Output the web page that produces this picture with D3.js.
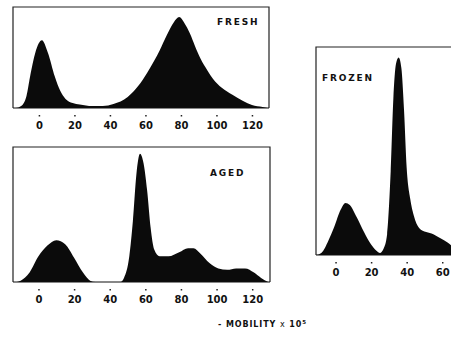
<!DOCTYPE html>
<html>
<head>
<meta charset="utf-8">
<script src="https://cdn.jsdelivr.net/npm/d3@7"></script>
<style>
  body { margin: 0; background: #fff; }
  svg { display: block; }
  text { font-family: "DejaVu Sans", sans-serif; font-weight: bold; fill: #111; }
</style>
</head>
<body>
<svg id="chart"></svg>
<script>
var width = 451;
var height = 340;

// mobility positions and relative peak heights
let freshX = [-13, -10, -7, -5, -2, 1.7, 5, 9, 12, 15, 19, 23, 30, 36, 42, 50, 56, 61, 65, 68, 72, 76, 79, 82, 85, 88, 91, 95, 98, 103, 109, 115, 120, 126, 129];
let freshY = [0, 0.02, 0.12, 0.31, 0.55, 0.67, 0.55, 0.31, 0.17, 0.09, 0.05, 0.035, 0.02, 0.02, 0.04, 0.11, 0.22, 0.35, 0.47, 0.57, 0.72, 0.85, 0.9, 0.84, 0.74, 0.61, 0.49, 0.37, 0.29, 0.2, 0.13, 0.07, 0.03, 0.01, 0];

let agedX = [-13, -10, -5, 0, 5, 10, 15, 20, 25, 29, 32, 46, 48, 51, 53, 55, 57, 59, 61, 63, 65, 68, 73, 79, 84, 87, 91, 96, 101, 106, 111, 116, 121, 125, 129];
let agedY = [0, 0.01, 0.07, 0.19, 0.27, 0.31, 0.28, 0.18, 0.07, 0.01, 0, 0, 0.03, 0.19, 0.45, 0.8, 0.95, 0.88, 0.68, 0.4, 0.24, 0.19, 0.19, 0.22, 0.25, 0.25, 0.21, 0.14, 0.1, 0.09, 0.1, 0.1, 0.07, 0.03, 0];

let frozenX = [-11, -8, -4, -1, 3, 5.6, 8, 12, 16, 20, 23, 25, 27, 29, 31, 32.5, 34, 35.5, 37, 38.5, 40, 42, 44, 47, 51, 55, 59, 63, 66];
let frozenY = [0, 0.01, 0.07, 0.13, 0.22, 0.25, 0.24, 0.18, 0.11, 0.05, 0.02, 0.01, 0.03, 0.1, 0.4, 0.75, 0.92, 0.95, 0.9, 0.7, 0.42, 0.27, 0.19, 0.13, 0.11, 0.1, 0.08, 0.06, 0.04];

let wideTicks = [0, 20, 40, 60, 80, 100, 120];
let frozenTicks = [0, 20, 40, 60];

var svg = d3.select("#chart")
    .attr("width", width)
    .attr("height", height)
    .attr("viewBox", [0, 0, width, height]);

let panels = [
    {name: "FRESH", xs: freshX, ys: freshY, ticks: wideTicks,
     dom: [-14.6, 129.6], left: 13, right: 269, top: 7, base: 108, lx: 217, ly: 25, rightEdge: true},
    {name: "AGED", xs: agedX, ys: agedY, ticks: wideTicks,
     dom: [-14.3, 130], left: 13, right: 270, top: 147, base: 282, lx: 210, ly: 176, rightEdge: true},
    {name: "FROZEN", xs: frozenX, ys: frozenY, ticks: frozenTicks,
     dom: [-11, 65.5], left: 316, right: 452, top: 47, base: 255, lx: 322, ly: 81, rightEdge: false}
];

for (let p of panels) {
    let x = d3.scaleLinear().domain(p.dom).range([p.left, p.right]);
    let y = d3.scaleLinear().domain([0, 1]).range([p.base, p.top]);
    let pts = p.xs.map((d, i) => [d, p.ys[i]]);
    let g = svg.append("g");

    let area = d3.area()
        .x(d => x(d[0]))
        .y0(y(0))
        .y1(d => y(d[1]))
        .curve(d3.curveMonotoneX);

    g.append("path")
        .datum(pts)
        .attr("d", area)
        .attr("fill", "#0b0b0b");

    // box: left, top, right + baseline
    let box = d3.path();
    box.moveTo(p.left, p.base);
    box.lineTo(p.left, p.top);
    box.lineTo(p.right, p.top);
    if (p.rightEdge) box.lineTo(p.right, p.base);
    g.append("path")
        .attr("d", box.toString())
        .attr("fill", "none")
        .attr("stroke", "#222")
        .attr("stroke-width", 1.2);
    g.append("line")
        .attr("x1", p.left).attr("x2", p.right)
        .attr("y1", p.base).attr("y2", p.base)
        .attr("stroke", "#111")
        .attr("stroke-width", 1.2);

    g.append("text")
        .attr("x", p.lx)
        .attr("y", p.ly)
        .attr("font-size", 9)
        .attr("letter-spacing", 1.8)
        .text(p.name);

    let axis = d3.axisBottom(x)
        .tickValues(p.ticks)
        .tickSize(1.5)
        .tickPadding(5);
    let ag = g.append("g")
        .attr("transform", "translate(0," + (p.base + 7) + ")")
        .call(axis);
    ag.select(".domain").remove();
    ag.selectAll(".tick line").attr("stroke", "#222").attr("stroke-width", 1.5);
    ag.selectAll(".tick text")
        .attr("font-size", 10)
        .attr("font-family", "DejaVu Sans, sans-serif")
        .attr("font-weight", "bold")
        .attr("fill", "#111");
}

let title = svg.append("text")
    .attr("x", 218)
    .attr("y", 327)
    .attr("font-size", 8)
    .attr("letter-spacing", 0.9);
title.append("tspan").text("- MOBILITY ");
title.append("tspan").attr("font-weight", "normal").text("x");
title.append("tspan").text(" 10");
title.append("tspan").attr("dy", -3.5).attr("font-size", 5.5).text("5");
</script>
</body>
</html>
